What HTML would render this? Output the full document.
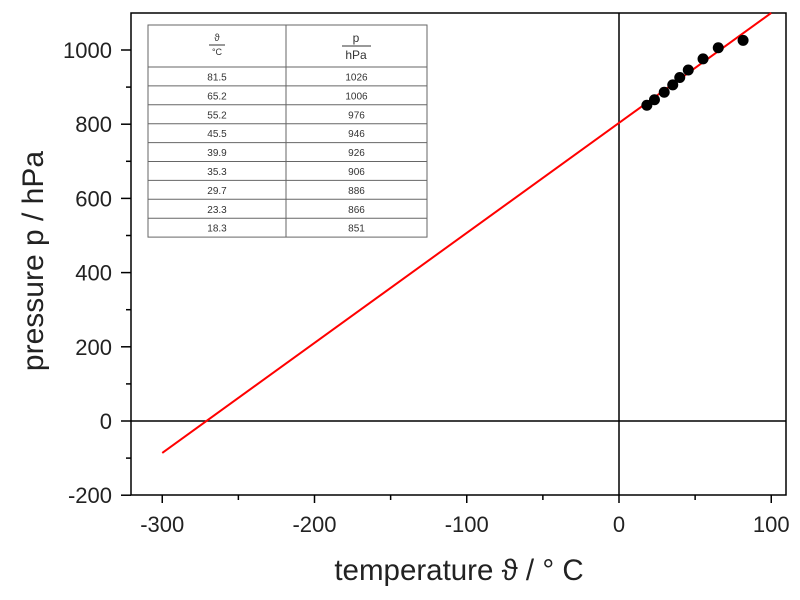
<!DOCTYPE html>
<html><head><meta charset="utf-8"><style>
body{margin:0;background:#fff;width:800px;height:600px;overflow:hidden;font-family:"Liberation Sans",sans-serif}
</style></head><body>
<svg id="chart" width="800" height="600" xmlns="http://www.w3.org/2000/svg" style="position:absolute;left:0;top:0"></svg>
<script>
const temps=[81.5,65.2,55.2,45.5,39.9,35.3,29.7,23.3,18.3];
const pressures=[1026,1006,976,946,926,906,886,866,851];
const xTicks=[-300,-200,-100,0,100];
const yTicks=[-200,0,200,400,600,800,1000];
const fitSlope=2.965, fitIntercept=803.5, fitRange=[-300,100];
const X0=131,X1=786,Y0=495,Y1=13;
const xs=v=>619+v*1.5225;
const ys=v=>421-v*0.3710;
const svg=document.getElementById('chart');
const NS='http://www.w3.org/2000/svg';
function mk(t,a,txt){const e=document.createElementNS(NS,t);for(const k in a)e.setAttribute(k,a[k]);if(txt!==undefined)e.textContent=txt;svg.appendChild(e);return e;}
let e;
e=mk('line',{x1:X0,x2:X1,y1:ys(0),y2:ys(0),stroke:'#000','stroke-width':1.5});

e=mk('line',{x1:xs(0),x2:xs(0),y1:Y1,y2:Y0,stroke:'#000','stroke-width':1.5});

e=mk('rect',{x:X0,y:Y1,width:X1-X0,height:Y0-Y1,fill:'none',stroke:'#000','stroke-width':1.5});

for(let v=-300;v<=100;v+=50){const maj=v%100===0;
e=mk('line',{x1:xs(v),x2:xs(v),y1:Y0,y2:Y0+(maj?8:5),stroke:'#000','stroke-width':1.5});
}
xTicks.forEach(v=>{e=mk('text',{x:xs(v),y:532,'text-anchor':'middle','font-size':22,fill:'#222'},String(v));
});
for(let v=-200;v<=1000;v+=100){const maj=v%200===0;
e=mk('line',{x1:X0-(maj?10:5),x2:X0,y1:ys(v),y2:ys(v),stroke:'#000','stroke-width':1.5});
}
yTicks.forEach(v=>{e=mk('text',{x:112,y:ys(v)+8,'text-anchor':'end','font-size':22,fill:'#222'},String(v));
});
e=mk('text',{x:459,y:580,'text-anchor':'middle','font-size':29.5,fill:'#222'},'temperature ϑ / ° C');

e=mk('text',{x:0,y:0,'text-anchor':'middle','font-size':30,fill:'#222',transform:'translate(43,261) rotate(-90)'},'pressure p / hPa');

e=mk('line',{x1:xs(fitRange[0]),y1:ys(fitIntercept+fitSlope*fitRange[0]),x2:xs(fitRange[1]),y2:ys(fitIntercept+fitSlope*fitRange[1]),stroke:'#f00','stroke-width':2});

temps.forEach((t,i)=>{e=mk('circle',{cx:xs(t),cy:ys(pressures[i]),r:5.5,fill:'#000'});
});
const TX=148,TX1=427,TM=286,TY=25,TH=67,RH=18.9;
e=mk('rect',{x:TX,y:TY,width:TX1-TX,height:TH-TY+RH*temps.length,fill:'#fff',stroke:'#666','stroke-width':1});

mk('line',{x1:TM,x2:TM,y1:TY,y2:TH+RH*temps.length,stroke:'#666'});
for(let i=0;i<temps.length;i++){mk('line',{x1:TX,x2:TX1,y1:TH+RH*i,y2:TH+RH*i,stroke:'#666'});
e=mk('text',{x:(TX+TM)/2,y:TH+RH*i+13.5,'text-anchor':'middle','font-size':10,fill:'#333'},temps[i].toFixed(1));

e=mk('text',{x:(TM+TX1)/2,y:TH+RH*i+13.5,'text-anchor':'middle','font-size':10,fill:'#333'},String(pressures[i]));
}
e=mk('text',{x:217,y:41,'text-anchor':'middle','font-size':10,fill:'#333'},'ϑ');

mk('line',{x1:209,x2:225,y1:45,y2:45,stroke:'#333'});
mk('text',{x:217,y:55,'text-anchor':'middle','font-size':9,fill:'#333'},'°C');
e=mk('text',{x:356,y:42,'text-anchor':'middle','font-size':12,fill:'#333'},'p');

mk('line',{x1:342,x2:371,y1:46,y2:46,stroke:'#333'});
mk('text',{x:356,y:59,'text-anchor':'middle','font-size':12,fill:'#333'},'hPa');
</script>
</body></html>
